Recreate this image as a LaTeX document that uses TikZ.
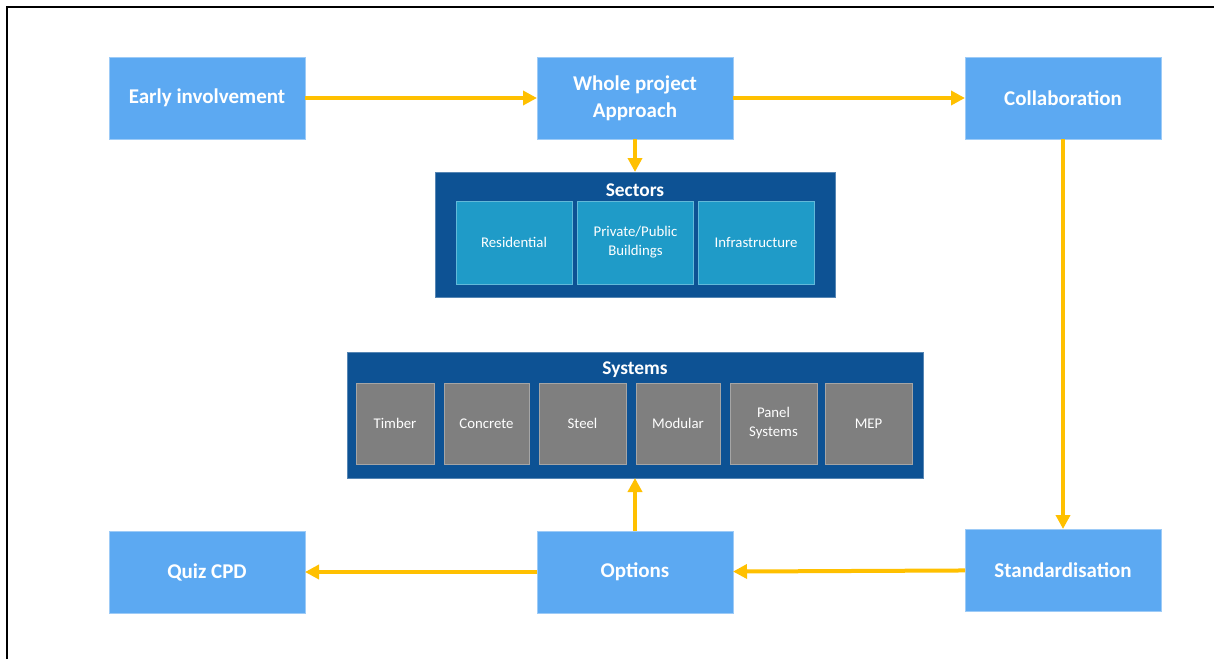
\documentclass[tikz,border=0pt]{standalone}
\usepackage{fontspec}
\setmainfont{Carlito}
\usepackage{xcolor}
\usetikzlibrary{arrows.meta}

\definecolor{boxblue}{RGB}{92,169,242}
\definecolor{deepblue}{RGB}{13,82,148}
\definecolor{sectorblue}{RGB}{31,155,200}
\definecolor{sysgray}{RGB}{127,127,127}
\definecolor{flowyellow}{RGB}{255,192,0}

\tikzset{
  stagebox/.style={fill=boxblue, draw=boxblue!60!white, line width=0.4pt, text=white,
    minimum width=98pt, minimum height=41pt, inner sep=0pt, outer sep=0pt, align=center,
    font=\fontsize{10.5}{13.5}\selectfont\bfseries},
  groupbox/.style={fill=deepblue, draw=deepblue!70!white, line width=0.4pt,
    minimum height=62.5pt, inner sep=0pt, outer sep=0pt},
  grouptitle/.style={text=white, inner sep=0pt, font=\fontsize{9.7}{12}\selectfont\bfseries},
  sectorbox/.style={fill=sectorblue, draw=sectorblue!70!white, line width=0.3pt, text=white,
    minimum width=58pt, minimum height=41.5pt, inner sep=0pt, align=center,
    font=\fontsize{7.4}{9.5}\selectfont},
  sysbox/.style={fill=sysgray, draw=sysgray!70!white, line width=0.3pt, text=white,
    minimum height=40.5pt, inner sep=0pt, align=center,
    font=\fontsize{7.4}{9.5}\selectfont},
  flow/.style={draw=flowyellow, line width=2pt, -{Triangle[width=7pt,length=7pt]}}
}

\begin{document}
\begin{tikzpicture}[x=0.5pt, y=-0.5pt]

    \useasboundingbox (0,0) rectangle (1214,659);
    \draw [line width=1pt] (7,659) -- (7,7) -- (1214,7);

    \node [stagebox] (early) at (207, 98) {Early involvement};
    \node [stagebox] (whole) at (635, 98) {Whole project\\Approach};
    \node [stagebox] (collab) at (1063, 98) {Collaboration};
    \node [stagebox] (quiz) at (207, 572) {Quiz CPD};
    \node [stagebox] (options) at (635, 572) {Options};
    \node [stagebox] (stand) at (1063, 570) {Standardisation};

    \node [groupbox, minimum width=200pt] (sectors) at (635, 234.5) {};
    \node [grouptitle] (sectorstitle) at (635, 190) {Sectors};
    \node [sectorbox] (resid) at (514, 242.5) {Residential};
    \node [sectorbox] (privpub) at (635.5, 242.5) {Private/Public\\Buildings};
    \node [sectorbox] (infra) at (756, 242.5) {Infrastructure};

    \node [groupbox, minimum width=288pt, minimum height=63pt] (systems) at (635, 415) {};
    \node [grouptitle] (systemstitle) at (635, 370) {Systems};
    \node [sysbox, minimum width=39pt] (timber) at (395, 423.5) {Timber};
    \node [sysbox, minimum width=42.5pt] (concrete) at (486.5, 423.5) {Concrete};
    \node [sysbox, minimum width=43.5pt] (steel) at (582.5, 423.5) {Steel};
    \node [sysbox, minimum width=42pt] (modular) at (678, 423.5) {Modular};
    \node [sysbox, minimum width=43.5pt] (panel) at (773.5, 423.5) {Panel\\Systems};
    \node [sysbox, minimum width=43.5pt] (mep) at (868.5, 423.5) {MEP};

    \draw [flow] (early) -- (whole);
    \draw [flow] (whole) -- (collab);
    \draw [flow] (whole) -- (sectors);
    \draw [flow] (collab) -- (stand);
    \draw [flow] (stand) -- (options);
    \draw [flow] (options) -- (quiz);
    \draw [flow] (options) -- (systems);

\end{tikzpicture}
\end{document}
